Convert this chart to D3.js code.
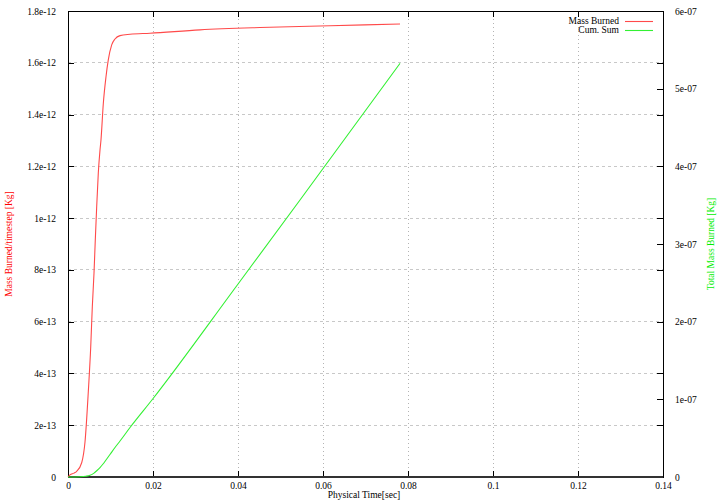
<!DOCTYPE html>
<html><head><meta charset="utf-8">
<script src="https://cdn.jsdelivr.net/npm/d3@7"></script>
<style>body{margin:0;background:#fff}svg{display:block}text{font-family:"Liberation Serif","DejaVu Serif",serif;font-size:9.5px;fill:#000}</style>
</head><body>
<script>
// time [sec]
const massTime = [0,0.00047,0.00141,0.00205,0.00322,0.004,0.00478,0.00534,0.00572,0.00612,0.00642,0.00675,0.00713,0.00753,0.00776,0.00831,0.00894,0.00948,0.01028,0.01106,0.01224,0.01459,0.01929,0.03106,0.04518,0.06165,0.07812];
// Mass burned per timestep [1e-12 Kg]
const massBurned = [0,0.008,0.015,0.022,0.055,0.135,0.33,0.50,0.658,0.788,0.915,1.044,1.174,1.263,1.302,1.443,1.546,1.611,1.669,1.692,1.705,1.710,1.714,1.727,1.736,1.743,1.750];
const cumTime = [0,0.00282,0.00424,0.00518,0.00612,0.00682,0.00753,0.00824,0.00894,0.00988,0.01106,0.01224,0.01459,0.01993,0.03984,0.05459,0.07812];
// cumulative sum [1e-7 Kg]
const cumSum = [0,0.003,0.01,0.022,0.05,0.084,0.122,0.167,0.219,0.29,0.38,0.4635,0.637,1.004,2.472,3.566,5.326];
const xTicks = [0,0.02,0.04,0.06,0.08,0.1,0.12,0.14];
const xTickLabels = ["0","0.02","0.04","0.06","0.08","0.1","0.12","0.14"];
const y1Ticks = [0,0.2,0.4,0.6,0.8,1.0,1.2,1.4,1.6,1.8];
const y1TickLabels = ["0","2e-13","4e-13","6e-13","8e-13","1e-12","1.2e-12","1.4e-12","1.6e-12","1.8e-12"];
const y2Ticks = [0,1,2,3,4,5,6];
const y2TickLabels = ["0","1e-07","2e-07","3e-07","4e-07","5e-07","6e-07"];

const W=720,H=504, L=68, R=663, T=11, B=477;
const svg=d3.select("body").append("svg").attr("width",W).attr("height",H);
const x=d3.scaleLinear().domain([0,0.14]).range([L,R]);
const y1=d3.scaleLinear().domain([0,1.8]).range([B,T]);
const y2=d3.scaleLinear().domain([0,6]).range([B,T]);

// grid
svg.append("g").selectAll("line").data(y1Ticks.slice(1,-1)).join("line")
  .attr("x1",L).attr("x2",R).attr("y1",d=>y1(d)).attr("y2",d=>y1(d))
  .attr("stroke","#c8c8c8").attr("stroke-width",1).attr("stroke-dasharray","3,3").attr("shape-rendering","crispEdges");
svg.append("g").selectAll("line").data(xTicks.slice(1,-1)).join("line")
  .attr("x1",d=>x(d)).attr("x2",d=>x(d)).attr("y1",T).attr("y2",B)
  .attr("stroke","#b4b4b4").attr("stroke-width",1).attr("stroke-dasharray","1,3").attr("shape-rendering","crispEdges");

function styleAxis(g){g.select(".domain").remove();g.selectAll("line").attr("stroke","#000").attr("shape-rendering","crispEdges");g.selectAll("text").attr("font-family","Liberation Serif").attr("font-size","9.5px");}
svg.append("g").attr("transform",`translate(0,${B})`)
  .call(d3.axisBottom(x).tickValues(xTicks).tickFormat((d,i)=>xTickLabels[i]).tickSizeInner(-6).tickPadding(5)).call(styleAxis);
svg.append("g").attr("transform",`translate(0,${T})`)
  .call(d3.axisTop(x).tickValues(xTicks).tickFormat("").tickSizeInner(-6)).call(styleAxis);
svg.append("g").attr("transform",`translate(${L},0)`)
  .call(d3.axisLeft(y1).tickValues(y1Ticks).tickFormat((d,i)=>y1TickLabels[i]).tickSizeInner(-6).tickPadding(12)).call(styleAxis);
svg.append("g").attr("transform",`translate(${R},0)`)
  .call(d3.axisRight(y1).tickValues(y1Ticks).tickFormat("").tickSizeInner(-6)).call(styleAxis);
svg.append("g").attr("transform",`translate(${R},0)`)
  .call(d3.axisRight(y2).tickValues(y2Ticks).tickFormat((d,i)=>y2TickLabels[i]).tickSizeInner(-6).tickPadding(12)).call(styleAxis);

// border
svg.append("rect").attr("x",L+0.5).attr("y",T+0.5).attr("width",R-L).attr("height",B-T)
  .attr("fill","none").attr("stroke","#000").attr("stroke-width",1);
svg.append("line").attr("x1",L).attr("x2",R).attr("y1",B).attr("y2",B).attr("stroke","#333").attr("stroke-width",2.2);

// lines
const lineRed=d3.line().x((d,i)=>x(massTime[i])).y(d=>y1(d)).curve(d3.curveMonotoneX);
const lineGreen=d3.line().x((d,i)=>x(cumTime[i])).y(d=>y2(d)).curve(d3.curveMonotoneX);
svg.append("path").attr("d",lineRed(massBurned)).attr("fill","none").attr("stroke","#ff4a4a").attr("stroke-width",1.1);
svg.append("path").attr("d",lineGreen(cumSum)).attr("fill","none").attr("stroke","#33f033").attr("stroke-width",1.1);

// axis titles
svg.append("text").attr("x",364).attr("y",498).attr("text-anchor","middle").text("Physical Time[sec]");
svg.append("text").attr("transform","translate(12,244) rotate(-90)").attr("text-anchor","middle").style("fill","#ff0000").text("Mass Burned/timestep [Kg]");
svg.append("text").attr("transform","translate(714,244) rotate(-90)").attr("text-anchor","middle").style("fill","#00ee00").text("Total Mass Burned [Kg]");

// legend
const leg=[{t:"Mass Burned",c:"#ff4a4a",y:21},{t:"Cum. Sum",c:"#33f033",y:30}];
leg.forEach(l=>{
  svg.append("text").attr("x",619).attr("y",l.y+3).attr("text-anchor","end").text(l.t);
  svg.append("line").attr("x1",625).attr("x2",653).attr("y1",l.y+0.5).attr("y2",l.y+0.5).attr("stroke",l.c).attr("stroke-width",1.1);
});
</script>
</body></html>
